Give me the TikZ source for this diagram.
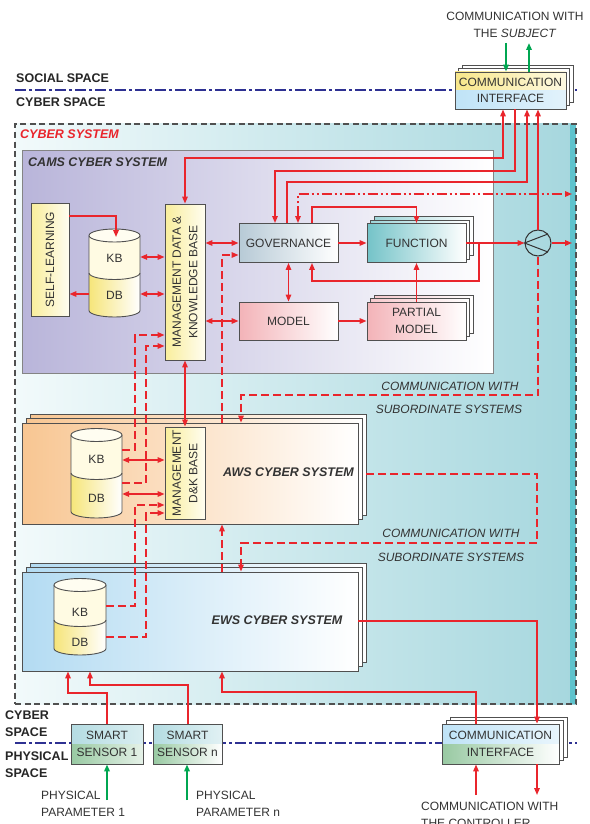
\documentclass[tikz,border=0pt]{standalone}
\usepackage{fontspec}
\setmainfont{Liberation Sans}
\usetikzlibrary{arrows.meta,calc}

\definecolor{linered}{HTML}{E9252C}
\definecolor{spaceline}{HTML}{2E3192}
\definecolor{sigGreen}{HTML}{00A651}
\definecolor{txt}{HTML}{333333}
\definecolor{frame}{HTML}{505050}
\definecolor{cyberL}{HTML}{F2FAFB}
\definecolor{cyberR}{HTML}{A6D7DE}
\definecolor{cyberEdge}{HTML}{5FC3CD}
\definecolor{camsL}{HTML}{B9B5DA}
\definecolor{awsL}{HTML}{F8C692}
\definecolor{ewsL}{HTML}{B3DBF2}
\definecolor{yelL}{HTML}{F9EE9C}
\definecolor{yelR}{HTML}{FFFDF0}
\definecolor{govL}{HTML}{B7CAD6}
\definecolor{funL}{HTML}{74C3C8}
\definecolor{modL}{HTML}{F3B3B8}
\definecolor{kbFill}{HTML}{FFFBE3}
\definecolor{dbL}{HTML}{F6E57A}
\definecolor{ifYel}{HTML}{F8E78A}
\definecolor{ifBlue}{HTML}{BFE3F7}
\definecolor{ifGreen}{HTML}{98C9A2}
\definecolor{sensTop}{HTML}{B4DCE2}

\tikzset{
  box/.style={draw=frame, line width=0.9pt, inner sep=0pt, align=center, text=txt},
  layer/.style={draw=frame, line width=0.9pt, fill=white},
  wire/.style={linered, line width=1.5pt},
  dwire/.style={wire, dash pattern=on 8pt off 4pt},
  ddwire/.style={wire, dash pattern=on 10pt off 3pt on 2pt off 3pt on 2pt off 3pt},
  gwire/.style={sigGreen, line width=1.8pt},
  spacesep/.style={spaceline, line width=2.3pt, dash pattern=on 11pt off 3pt on 3pt off 3pt},
  spacelabel/.style={anchor=west, inner sep=0pt, align=left, text=black!85,
    font=\fontsize{12.5}{17}\selectfont\bfseries},
  syslabel/.style={inner sep=0pt, text=txt, font=\fontsize{12.5}{15}\selectfont\bfseries\itshape},
  commlabel/.style={inner sep=0pt, text=txt, font=\fontsize{12}{15}\selectfont\itshape},
  plainlabel/.style={inner sep=0pt, text=txt, align=left},
}

% two offset copies behind a stacked box
\newcommand\layers[7]{%
  \path[layer,#7] (#1+2*#5,#2-2*#6) rectangle (#3+2*#5,#4-2*#6);
  \path[layer,#7] (#1+#5,#2-#6) rectangle (#3+#5,#4-#6);
}

% database cylinder with a KB and a DB section
\newcommand\dbcyl[8]{%
  \path[left color=dbL, right color=white] (#2-#3,#5) -- (#2-#3,#6)
     arc[start angle=180,end angle=360,x radius=#3pt,y radius=6.5pt] -- (#2+#3,#5) -- cycle;
  \path[fill=kbFill] (#2-#3,#4) -- (#2-#3,#5)
     arc[start angle=180,end angle=360,x radius=#3pt,y radius=6.5pt] -- (#2+#3,#4) -- cycle;
  \draw[frame, line width=0.9pt] (#2-#3,#4) -- (#2-#3,#6)
     arc[start angle=180,end angle=360,x radius=#3pt,y radius=6.5pt] -- (#2+#3,#4);
  \draw[frame, line width=0.9pt] (#2-#3,#5)
     arc[start angle=180,end angle=360,x radius=#3pt,y radius=6.5pt];
  \draw[frame, line width=0.9pt, fill=kbFill!50!white] (#2,#4) ellipse[x radius=#3pt, y radius=6.5pt];
  \node[inner sep=0pt, minimum width=2*#3pt, minimum height=#6pt-#4pt+13pt] (#1) at (#2,#4/2+#6/2) {};
  \node[text=txt] (#1KB) at (#2,#7) {KB};
  \node[text=txt] (#1DB) at (#2,#8) {DB};
}

\begin{document}
\begin{tikzpicture}[x=1pt,y=-1pt, >={Triangle[length=7pt,width=5.5pt]},
  font=\fontsize{12}{16.5}\selectfont]
\useasboundingbox (0,0) rectangle (589,824);
\fill[white] (0,0) rectangle (589,824);

% boundaries between spaces
\draw[spacesep] (15,90) -- (577,90);
\draw[spacesep] (15,743) -- (577,743);
\node[spacelabel] (lblSocial) at (16,78) {SOCIAL SPACE};
\node[spacelabel] (lblCyberTop) at (16,102) {CYBER SPACE};
\node[spacelabel] (lblCyberBot) at (5,723.5) {CYBER\\SPACE};
\node[spacelabel] (lblPhys) at (5,765) {PHYSICAL\\SPACE};

% cyber system frame
\node[draw=frame, line width=1.3pt, dash pattern=on 6pt off 3.5pt,
      left color=cyberL, right color=cyberR, inner sep=0pt,
      minimum width=561pt, minimum height=580pt,
      path picture={\fill[cyberEdge] ([xshift=-6pt]path picture bounding box.north east)
         rectangle (path picture bounding box.south east);}] (cyber) at (295.5,414) {};
\node[anchor=west, inner sep=0pt, text=linered, font=\fontsize{12.5}{15}\selectfont\bfseries\itshape]
  (lblCyberSys) at (20,134) {CYBER SYSTEM};

% CAMS cyber system
\node[draw=frame!70, line width=0.8pt, left color=camsL, right color=white, inner sep=0pt,
      minimum width=471pt, minimum height=223pt] (cams) at (257.5,261.5) {};
\node[syslabel, anchor=west] (lblCams) at (28,162) {CAMS CYBER SYSTEM};

\node[box, left color=yelL, right color=yelR, minimum width=38pt, minimum height=113pt] (selfl) at (50,259.5) {};
\node[rotate=90, text=txt] (selflTxt) at (selfl.center) {SELF-LEARNING};

\dbcyl{camsCyl}{114.5}{25.5}{235.5}{273}{310.5}{258}{295}

\node[box, left color=yelL, right color=yelR, minimum width=40pt, minimum height=156pt] (camsMgmt) at (185,282) {};
\node[rotate=90, align=center, text=txt] (camsMgmtTxt) at (camsMgmt.center) {MANAGEMENT DATA \&\\KNOWLEDGE BASE};

\node[box, left color=govL, right color=white, minimum width=99pt, minimum height=39pt] (gov) at (288.5,243) {GOVERNANCE};
\layers{367}{223.5}{466}{262.5}{3.5}{3.5}{left color=funL!70, right color=white}
\node[box, left color=funL, right color=white, minimum width=99pt, minimum height=39pt] (func) at (416.5,243) {FUNCTION};
\node[box, left color=modL, right color=white, minimum width=99pt, minimum height=38pt] (model) at (288.5,321) {MODEL};
\layers{367}{302}{466}{340}{3.5}{3.5}{left color=modL!70, right color=white}
\node[box, left color=modL, right color=white, minimum width=99pt, minimum height=38pt] (partial) at (416.5,321) {PARTIAL\\MODEL};

\node[circle, draw=txt, line width=1pt, minimum size=26pt, inner sep=0pt] (mix) at (538,243) {};
\draw[txt, line width=1pt] (mix.42) -- (mix.west) -- (mix.-42);

% AWS cyber system
\layers{22}{423}{358}{524}{4}{4.5}{left color=awsL, right color=white}
\node[box, left color=awsL, right color=white, minimum width=336pt, minimum height=101pt] (aws) at (190,473.5) {};
\node[syslabel] (lblAws) at (288.5,472) {AWS CYBER SYSTEM};
\dbcyl{awsCyl}{96.5}{25.5}{435}{473}{511.5}{459}{498}
\node[box, left color=yelL, right color=yelR, minimum width=40pt, minimum height=92pt] (awsMgmt) at (185,473) {};
\node[rotate=90, align=center, text=txt] (awsMgmtTxt) at (awsMgmt.center) {MANAGEMENT\\D\&K BASE};

% EWS cyber system
\layers{22}{572}{358}{671}{4}{4.5}{left color=ewsL, right color=white}
\node[box, left color=ewsL, right color=white, minimum width=336pt, minimum height=99pt] (ews) at (190,621.5) {};
\node[syslabel] (lblEws) at (277,620) {EWS CYBER SYSTEM};
\dbcyl{ewsCyl}{80}{26}{585}{620}{648.5}{612}{642}

% communication interface with the subject
\layers{455}{72}{566}{109}{3.5}{3.5}{}
\fill[left color=ifYel, right color=ifYel!25] (455,72) rectangle (566,90.5);
\fill[left color=ifBlue, right color=ifBlue!45] (455,90.5) rectangle (566,109);
\node[box, minimum width=111pt, minimum height=37pt] (ciTop) at (510.5,90.5) {COMMUNICATION\\INTERFACE};
\node[plainlabel, align=center] (lblSubject) at (515,25) {COMMUNICATION WITH\\THE \textit{SUBJECT}};

% communication interface with the controller
\layers{442}{724}{559}{764}{4}{3.5}{}
\fill[left color=ifBlue, right color=ifBlue!35] (442,724) rectangle (559,744);
\fill[left color=ifGreen, right color=white] (442,744) rectangle (559,764);
\node[box, minimum width=117pt, minimum height=40pt] (ciBot) at (500.5,744) {COMMUNICATION\\INTERFACE};
\node[plainlabel, anchor=west] (lblController) at (421,815) {COMMUNICATION WITH\\THE CONTROLLER};

% smart sensors
\fill[left color=sensTop, right color=sensTop!50] (71,724) rectangle (143,744);
\fill[left color=ifGreen, right color=ifGreen!25] (71,744) rectangle (143,764);
\node[box, minimum width=72pt, minimum height=40pt] (sens1) at (107,744) {SMART\\SENSOR 1};
\fill[left color=sensTop, right color=sensTop!40] (153,724) rectangle (222,744);
\fill[left color=ifGreen, right color=white] (153,744) rectangle (222,764);
\node[box, minimum width=69pt, minimum height=40pt] (sensN) at (187.5,744) {SMART\\SENSOR n};
\node[plainlabel, anchor=west] (lblPar1) at (41,804) {PHYSICAL\\PARAMETER 1};
\node[plainlabel, anchor=west] (lblParN) at (196,804) {PHYSICAL\\PARAMETER n};

\node[commlabel, align=center] (lblSub1a) at (450,386) {COMMUNICATION WITH};
\node[commlabel, align=center] (lblSub1b) at (449,409) {SUBORDINATE SYSTEMS};
\node[commlabel, align=center] (lblSub2a) at (451,533) {COMMUNICATION WITH};
\node[commlabel, align=center] (lblSub2b) at (451,557) {SUBORDINATE SYSTEMS};

% ---- connectors inside CAMS
\draw[wire,->] (selfl.east |- 0,216) -| (116,237);
\draw[wire,->] (camsCyl.west |- 0,294) -- (selfl.east |- 0,294);
\draw[wire,<->] (camsCyl.east |- 0,257) -- (camsMgmt.west |- 0,257);
\draw[wire,<->] (camsCyl.east |- 0,294) -- (camsMgmt.west |- 0,294);
\draw[wire,<->] (camsMgmt.east |- gov.west) -- (gov.west);
\draw[wire,<->] (camsMgmt.east |- model.west) -- (model.west);
\draw[wire,->] (gov.east) -- (func.west);
\draw[wire,<->] (gov.south) -- (model.north);
\draw[wire,->] (model.east) -- (partial.west);
\draw[wire,->] (partial.north) -- (func.south);
\draw[wire,->] (func.east) -- (mix.west);
\draw[wire,->] (func.east -| 479,0) |- (312,281) -- (gov.south -| 312,0);
\draw[wire,->] (gov.north -| 312,0) |- (func.north |- 0,207) -- (func.north);
\draw[wire,->] (mix.east) -- (572,243);
\draw[ddwire,<->] (gov.north -| 298,0) -- (298,194) -- (572,194);

% ---- links to the communication interface with the subject
\draw[wire,<->] (ciTop.south -| 503,0) -- (503,158) -| (camsMgmt.north);
\draw[wire,->] (ciTop.south -| 515,0) -- (515,171) -| (gov.north -| 275,0);
\draw[wire,->] (gov.north -| 287,0) -- (287,182) -| (ciTop.south -| 527,0);
\draw[wire,->] (mix.north) -- (ciTop.south -| mix.north);
\draw[gwire,->] (506,43) -- (ciTop.north -| 506,0);
\draw[gwire,->] (ciTop.north -| 529,0) -- (529,43);

% ---- communication with subordinate systems
\draw[dwire,->] (mix.south) -- (538,395) -| (aws.north -| 241,0);
\draw[dwire,->] ($(aws.east |- 0,474)+(8,0)$) -- (537,474) -- (537,543) -- (241,543) -- (ews.north -| 241,0);
\draw[dwire,->] (aws.north -| 222,0) -- (222,255) -- (gov.west |- 0,255);
\draw[dwire,->] (ews.north -| 222,0) -- (aws.south -| 222,0);

% ---- AWS and EWS data links
\draw[wire,<->] (awsCyl.east |- 0,460) -- (awsMgmt.west |- 0,460);
\draw[wire,<->] (awsCyl.east |- 0,494) -- (awsMgmt.west |- 0,494);
\draw[wire,<->] (camsMgmt.south) -- (awsMgmt.north);
\draw[dwire,->] (awsCyl.east |- 0,450) -- (135,450) -- (135,335) -- (camsMgmt.west |- 0,335);
\draw[dwire,->] (awsCyl.east |- 0,483) -- (146,483) -- (146,346) -- (camsMgmt.west |- 0,346);
\draw[dwire,->] (ewsCyl.east |- 0,606) -- (135,606) -- (135,505) -- (awsMgmt.west |- 0,505);
\draw[dwire,->] (ewsCyl.east |- 0,637) -- (146,637) -- (146,513) -- (awsMgmt.west |- 0,513);

% ---- physical side
\draw[wire,->] (ews.east |- 0,621) -- (537,621) -- (ciBot.north -| 537,0);
\draw[wire,->] (ciBot.north -| 476,0) -- (476,692) -- (222,692) -- (ews.south -| 222,0);
\draw[wire,->] (sens1.north) -- (107,693) -- (68,693) -- (ews.south -| 68,0);
\draw[wire,->] (sensN.north -| 188,0) -- (188,685) -- (90,685) -- (ews.south -| 90,0);
\draw[gwire,->] (107,800) -- (sens1.south);
\draw[gwire,->] (187,800) -- (sensN.south -| 187,0);
\draw[wire,->] (476,795) -- (ciBot.south -| 476,0);
\draw[wire,->] (ciBot.south -| 537,0) -- (537,795);
\end{tikzpicture}
\end{document}
